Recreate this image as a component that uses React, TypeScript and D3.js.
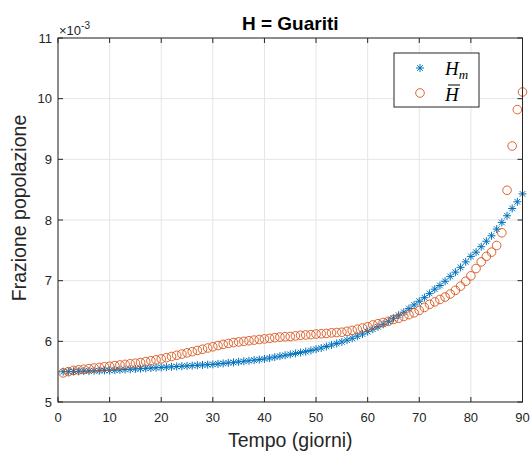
import React from "react";
import * as d3 from "d3";

const days = [
  1, 2, 3, 4, 5, 6, 7, 8, 9, 10, 11, 12, 13, 14, 15, 16, 17, 18, 19, 20,
  21, 22, 23, 24, 25, 26, 27, 28, 29, 30, 31, 32, 33, 34, 35, 36, 37, 38, 39, 40,
  41, 42, 43, 44, 45, 46, 47, 48, 49, 50, 51, 52, 53, 54, 55, 56, 57, 58, 59, 60,
  61, 62, 63, 64, 65, 66, 67, 68, 69, 70, 71, 72, 73, 74, 75, 76, 77, 78, 79, 80,
  81, 82, 83, 84, 85, 86, 87, 88, 89, 90,
];

// values in units of 1e-3
const hm = [
  5.5, 5.5, 5.505, 5.505, 5.51, 5.51, 5.515, 5.515, 5.52, 5.52,
  5.525, 5.53, 5.535, 5.54, 5.545, 5.55, 5.555, 5.56, 5.565, 5.57,
  5.575, 5.58, 5.585, 5.59, 5.595, 5.6, 5.605, 5.61, 5.615, 5.62,
  5.628, 5.636, 5.645, 5.653, 5.662, 5.671, 5.68, 5.69, 5.7, 5.71,
  5.725, 5.74, 5.755, 5.77, 5.785, 5.8, 5.815, 5.83, 5.85, 5.87,
  5.89, 5.915, 5.94, 5.965, 5.99, 6.02, 6.05, 6.085, 6.12, 6.16,
  6.2, 6.24, 6.28, 6.33, 6.38, 6.43, 6.48, 6.54, 6.6, 6.66,
  6.72, 6.79, 6.86, 6.92, 6.99, 7.07, 7.14, 7.22, 7.31, 7.4,
  7.47, 7.56, 7.65, 7.74, 7.85, 7.96, 8.07, 8.19, 8.3, 8.43,
];

const hbar = [
  5.48, 5.5, 5.52, 5.53, 5.54, 5.55, 5.56, 5.57, 5.58, 5.59,
  5.6, 5.61, 5.62, 5.63, 5.64, 5.65, 5.665, 5.68, 5.695, 5.71,
  5.73, 5.75, 5.77, 5.79, 5.81, 5.83, 5.85, 5.87, 5.89, 5.91,
  5.93, 5.95, 5.965, 5.98, 5.99, 6.0, 6.01, 6.02, 6.03, 6.04,
  6.05, 6.06, 6.07, 6.075, 6.08, 6.09, 6.1, 6.105, 6.11, 6.12,
  6.125, 6.13, 6.14, 6.145, 6.15, 6.165, 6.18, 6.2, 6.22, 6.24,
  6.27, 6.29, 6.31, 6.33, 6.36, 6.38, 6.41, 6.44, 6.47, 6.51,
  6.56, 6.61, 6.65, 6.69, 6.73, 6.78, 6.84, 6.91, 6.99, 7.08,
  7.2, 7.31, 7.4, 7.47, 7.58, 7.79, 8.49, 9.22, 9.82, 10.11,
];

const xTicks = [0, 10, 20, 30, 40, 50, 60, 70, 80, 90];
const yTicks = [5, 6, 7, 8, 9, 10, 11];

const titleText = "H = Guariti";
const xLabel = "Tempo (giorni)";
const yLabel = "Frazione popolazione";

const BLUE = "#0072BD";
const ORANGE = "#D95319";
const AX = "#262626";
const FONT = "'Liberation Sans', Arial, Helvetica, sans-serif";
const SERIF = "'Liberation Serif', 'Times New Roman', serif";

const starPath = (s: number) => {
  const d = s * 0.707;
  return `M${-s},0L${s},0M0,${-s}L0,${s}M${-d},${-d}L${d},${d}M${-d},${d}L${d},${-d}`;
};

export default function App() {
  const W = 531;
  const H = 451;
  const L = 58, R = 522.5, T = 38, B = 402;
  const x = d3.scaleLinear().domain([0, 90]).range([L, R]);
  const y = d3.scaleLinear().domain([5, 11]).range([B, T]);
  const tickLen = 5;

  return (
    <svg
      width={W}
      height={H}
      style={{ position: "absolute", left: 0, top: 0, background: "#fff" }}
      fontFamily={FONT}
    >
      <rect x={0} y={0} width={W} height={H} fill="#fff" />
      <rect x={L} y={T} width={R - L} height={B - T} fill="#fff" />
      {/* grid */}
      {xTicks.map((t) => (
        <line key={"gx" + t} x1={x(t)} x2={x(t)} y1={T} y2={B} stroke="#e5e5e5" strokeWidth={1} />
      ))}
      {yTicks.map((t) => (
        <line key={"gy" + t} x1={L} x2={R} y1={y(t)} y2={y(t)} stroke="#e5e5e5" strokeWidth={1} />
      ))}
      {/* data: Hm stars */}
      <g stroke={BLUE} strokeWidth={1} fill="none">
        {days.map((d, i) => (
          <path key={"s" + d} d={starPath(4)} transform={`translate(${x(d)},${y(hm[i])})`} />
        ))}
      </g>
      {/* data: Hbar circles */}
      <g stroke={ORANGE} strokeWidth={0.9} fill="none">
        {days.map((d, i) => (
          <circle key={"c" + d} cx={x(d)} cy={y(hbar[i])} r={4.3} />
        ))}
      </g>
      {/* axes box */}
      <rect x={L} y={T} width={R - L} height={B - T} fill="none" stroke={AX} strokeWidth={1} />
      {/* ticks */}
      {xTicks.map((t) => (
        <g key={"tx" + t} stroke={AX}>
          <line x1={x(t)} x2={x(t)} y1={B} y2={B - tickLen} />
          <line x1={x(t)} x2={x(t)} y1={T} y2={T + tickLen} />
        </g>
      ))}
      {yTicks.map((t) => (
        <g key={"ty" + t} stroke={AX}>
          <line x1={L} x2={L + tickLen} y1={y(t)} y2={y(t)} />
          <line x1={R} x2={R - tickLen} y1={y(t)} y2={y(t)} />
        </g>
      ))}
      {/* tick labels */}
      {xTicks.map((t) => (
        <text key={"lx" + t} x={x(t)} y={B + 20} textAnchor="middle" fontSize={13} fill={AX}>
          {t}
        </text>
      ))}
      {yTicks.map((t) => (
        <text key={"ly" + t} x={L - 6} y={y(t) + 4.5} textAnchor="end" fontSize={13} fill={AX}>
          {t}
        </text>
      ))}
      {/* exponent */}
      <text x={L + 1} y={35} fontSize={13} fill={AX}>
        ×10
        <tspan dy={-6} fontSize={10}>-3</tspan>
      </text>
      {/* title */}
      <text x={(L + R) / 2} y={30} textAnchor="middle" fontSize={19} fontWeight="bold" fill="#000">
        {titleText}
      </text>
      {/* axis labels */}
      <text x={(L + R) / 2} y={447} textAnchor="middle" fontSize={19.5} fill={AX}>
        {xLabel}
      </text>
      <text
        transform={`translate(26,208) rotate(-90)`}
        textAnchor="middle"
        fontSize={19.5}
        fill={AX}
      >
        {yLabel}
      </text>
      {/* legend */}
      <g>
        <rect x={394} y={53} width={85} height={54} fill="#fff" stroke={AX} strokeWidth={1} />
        <path d={starPath(4)} transform="translate(420,68)" stroke={BLUE} strokeWidth={1} fill="none" />
        <circle cx={420} cy={93} r={4.3} stroke={ORANGE} strokeWidth={0.9} fill="none" />
        <text x={445} y={75} fontFamily={SERIF} fontStyle="italic" fontSize={19} fill="#000">
          H
          <tspan fontSize={13} dy={4}>m</tspan>
        </text>
        <text x={445} y={101} fontFamily={SERIF} fontStyle="italic" fontSize={19} fill="#000">
          H
        </text>
        <line x1={448} x2={460} y1={85} y2={85} stroke="#000" strokeWidth={1} />
      </g>
    </svg>
  );
}
